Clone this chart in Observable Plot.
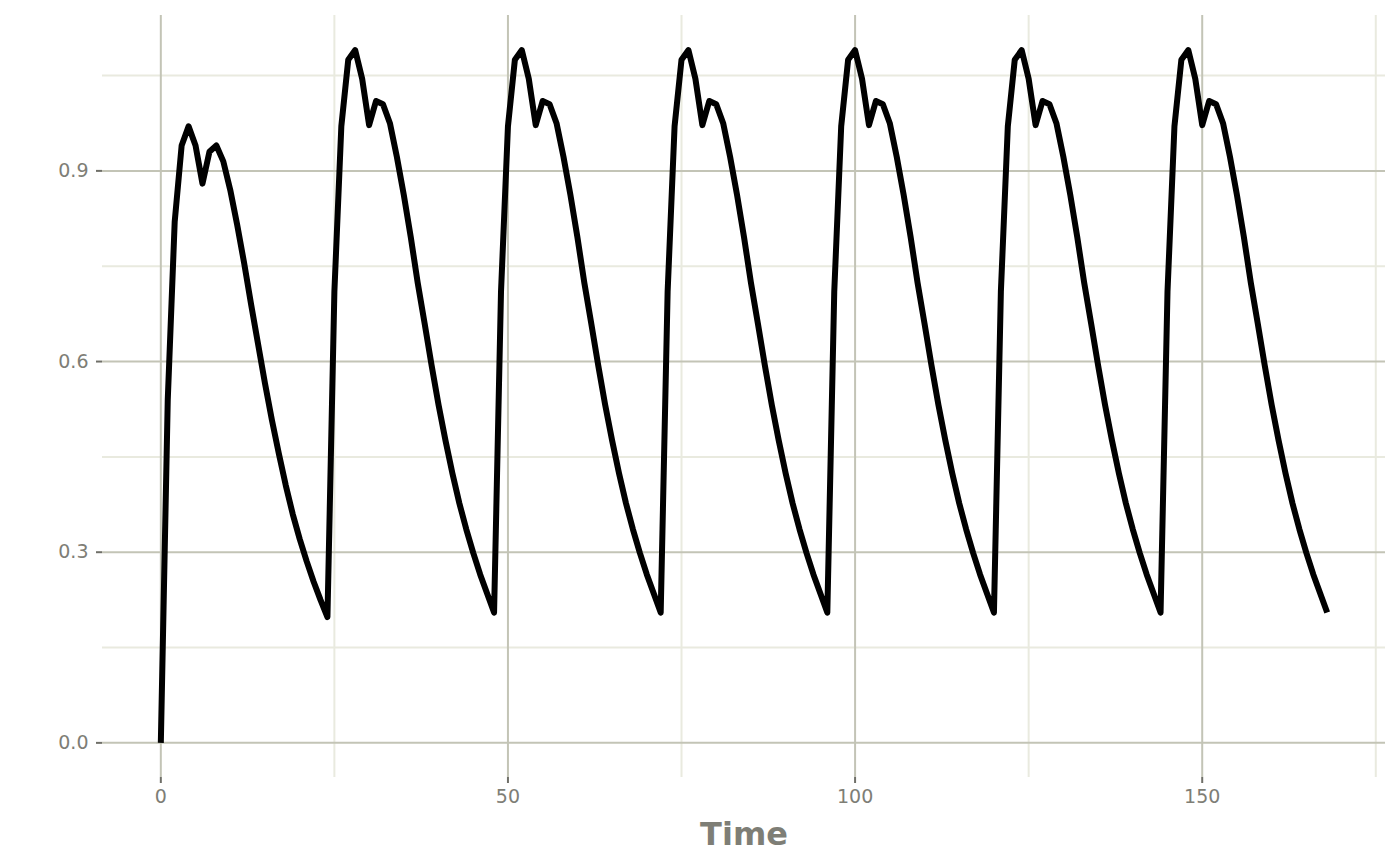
<!DOCTYPE html>
<html>
<head>
<meta charset="utf-8">
<script src="https://cdn.jsdelivr.net/npm/d3@7"></script>
<script src="https://cdn.jsdelivr.net/npm/@observablehq/plot@0.6"></script>
<style>
  html, body { margin: 0; padding: 0; background: #ffffff; }
  #chart svg { display: block; }
</style>
</head>
<body>
<div id="chart"></div>
<script>
// Concentration, one value per hour, per dosing interval
const dose1 = [0, 0.54, 0.82, 0.94, 0.97, 0.94, 0.88, 0.93, 0.94, 0.915, 0.87, 0.815, 0.755, 0.69, 0.628, 0.566, 0.508, 0.455, 0.405, 0.36, 0.321, 0.286, 0.254, 0.225, 0.198];
const dose2 = [0.71, 0.97, 1.075, 1.09, 1.045, 0.972, 1.01, 1.005, 0.975, 0.922, 0.862, 0.796, 0.724, 0.66, 0.594, 0.532, 0.476, 0.424, 0.377, 0.336, 0.299, 0.265, 0.235, 0.205];
const dose3 = [0.71, 0.97, 1.075, 1.09, 1.045, 0.972, 1.01, 1.005, 0.975, 0.922, 0.862, 0.796, 0.724, 0.66, 0.594, 0.532, 0.476, 0.424, 0.377, 0.336, 0.299, 0.265, 0.235, 0.205];
const dose4 = [0.71, 0.97, 1.075, 1.09, 1.045, 0.972, 1.01, 1.005, 0.975, 0.922, 0.862, 0.796, 0.724, 0.66, 0.594, 0.532, 0.476, 0.424, 0.377, 0.336, 0.299, 0.265, 0.235, 0.205];
const dose5 = [0.71, 0.97, 1.075, 1.09, 1.045, 0.972, 1.01, 1.005, 0.975, 0.922, 0.862, 0.796, 0.724, 0.66, 0.594, 0.532, 0.476, 0.424, 0.377, 0.336, 0.299, 0.265, 0.235, 0.205];
const dose6 = [0.71, 0.97, 1.075, 1.09, 1.045, 0.972, 1.01, 1.005, 0.975, 0.922, 0.862, 0.796, 0.724, 0.66, 0.594, 0.532, 0.476, 0.424, 0.377, 0.336, 0.299, 0.265, 0.235, 0.205];
const dose7 = [0.71, 0.97, 1.075, 1.09, 1.045, 0.972, 1.01, 1.005, 0.975, 0.922, 0.862, 0.796, 0.724, 0.66, 0.594, 0.532, 0.476, 0.424, 0.377, 0.336, 0.299, 0.265, 0.235, 0.205];

const xMajor = [0, 50, 100, 150];
const xMinor = [25, 75, 125, 175];
const yMajor = [0, 0.3, 0.6, 0.9];
const yMinor = [0.15, 0.45, 0.75, 1.05];
const xTitle = "Time";

const values = [].concat(dose1, dose2, dose3, dose4, dose5, dose6, dose7);
const data = values.map((v, i) => ({time: i, conc: v}));

const textColor = "#7e7e76";
const tickColor = "#6f6f68";
const majorGrid = "#c3c4b6";
const minorGrid = "#e9eadf";

const chart = Plot.plot({
  width: 1400,
  height: 865,
  marginLeft: 102,
  marginRight: 15,
  marginTop: 15,
  marginBottom: 88,
  x: {domain: [-8.4, 176.4]},
  y: {domain: [-0.0545, 1.1445]},
  style: {fontFamily: "DejaVu Sans", fontSize: "19px", background: "#ffffff", overflow: "visible"},
  marks: [
    Plot.gridX(xMinor, {stroke: minorGrid, strokeOpacity: 1, strokeWidth: 2}),
    Plot.gridY(yMinor, {stroke: minorGrid, strokeOpacity: 1, strokeWidth: 2}),
    Plot.gridX(xMajor, {stroke: majorGrid, strokeOpacity: 1, strokeWidth: 2}),
    Plot.gridY(yMajor, {stroke: majorGrid, strokeOpacity: 1, strokeWidth: 2}),
    Plot.axisX(xMajor, {tickSize: 6, tickPadding: 6, stroke: tickColor, fill: textColor, label: null, fontSize: 19, strokeWidth: 2}),
    Plot.axisY(yMajor, {tickSize: 6, tickPadding: 8, stroke: tickColor, fill: textColor, label: null, fontSize: 19, strokeWidth: 2, tickFormat: d3.format(".1f")}),
    Plot.line(data, {x: "time", y: "conc", stroke: "#000000", strokeWidth: 6, strokeLinejoin: "round", strokeLinecap: "butt"}),
    Plot.text([xTitle], {frameAnchor: "bottom", dy: 67, fontSize: 32, fontWeight: "bold", fill: textColor})
  ]
});
document.getElementById("chart").appendChild(chart);
</script>
</body>
</html>
